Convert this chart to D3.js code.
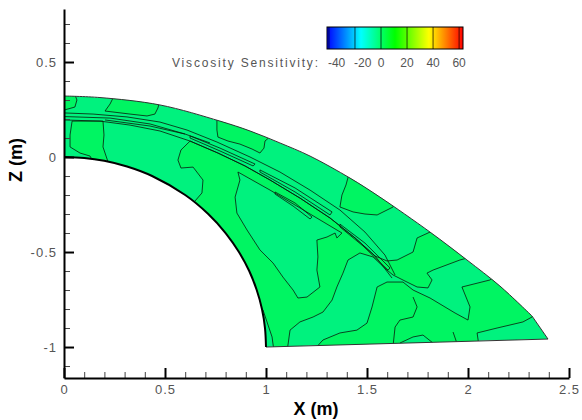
<!DOCTYPE html>
<html>
<head>
<meta charset="utf-8">
<script src="https://cdn.jsdelivr.net/npm/d3@7"></script>
<style>
body { margin:0; background:#fff; }
svg { display:block; font-family:"Liberation Sans", Arial, sans-serif; }
</style>
</head>
<body>
<svg id="svg"></svg>
<script>
// ---- data (X, Z in metres) ----
var outerEdge = [[0,0.321],[0.178,0.313],[0.475,0.274],[0.772,0.189],[0.921,0.137],[1.069,0.074],[1.218,0.005],
    [1.416,-0.111],[1.564,-0.211],[1.812,-0.395],[1.995,-0.542],[2.158,-0.679],[2.317,-0.837]];
var bottomEdge = [[2.317,-0.837],[2.396,-0.958],[1,-1]];
var innerEdge = [[1,-1],[0.995,-0.9],[0.98,-0.8],[0.954,-0.7],[0.917,-0.6],[0.866,-0.5],[0.8,-0.4],[0.714,-0.3],
    [0.6,-0.2],[0.436,-0.1],[0.312,-0.05],[0.199,-0.02],[0.1,-0.005],[0,0]];

// contour bands, value above 0 (greener)
var p1 = [[0.045,0.353],[0.064,0.300],[0.054,0.263],[0,0.247],[-0.045,0.247],[-0.045,0.353]];
var p2 = [[0.243,0.353],[0.243,0.311],[0.228,0.279],[0.203,0.242],[0.327,0.226],[0.411,0.216],[0.450,0.226],
    [0.465,0.258],[0.475,0.300],[0.475,0.353]];
var p3 = [[0.757,0.247],[0.757,0.142],[0.762,0.105],[0.812,0.084],[0.871,0.068],[0.931,0.042],[0.970,0.021],
    [0.990,0.047],[0.995,0.084],[1.030,0.116],[1.030,0.247]];
var p4 = [[1.416,-0.068],[1.396,-0.147],[1.376,-0.200],[1.366,-0.263],[1.431,-0.289],[1.490,-0.300],[1.550,-0.305],
    [1.629,-0.263],[1.663,-0.200],[1.564,-0.068]];
var strip = [[0.040,0.189],[0.030,0.116],[0.030,0.053],[0.079,0.021],[0.129,0.005],[0.153,-0.042],[0.218,-0.042],
    [0.218,-0.026],[0.193,0.053],[0.198,0.116],[0.193,0.189]];
var band = [[0.624,0.084],[0.579,0.037],[0.564,-0.016],[0.579,-0.058],[0.639,-0.053],[0.688,-0.121],[0.683,-0.189],
    [0.644,-0.237],[0.599,-0.253],[0.871,-0.700],[0.946,-0.805],[0.985,-0.805],[1.005,-0.868],[1.030,-0.947],
    [1.040,-1.026],[1.104,-1.026],[1.119,-0.911],[1.168,-0.868],[1.233,-0.842],[1.282,-0.816],[1.327,-0.753],
    [1.351,-0.684],[1.381,-0.611],[1.406,-0.542],[1.465,-0.505],[1.530,-0.526],[1.599,-0.595],[1.629,-0.621],
    [1.698,-0.658],[1.748,-0.684],[1.802,-0.689],[1.822,-0.647],[1.797,-0.611],[1.827,-0.595],[1.960,-0.542],
    [1.995,-0.532],[2.059,-0.489],[1.861,-0.342],[1.812,-0.395],[1.748,-0.426],[1.728,-0.500],[1.649,-0.542],
    [1.599,-0.547],[1.540,-0.521],[1.441,-0.426],[1.317,-0.321],[1.168,-0.216],[1.020,-0.121],[0.896,-0.047],
    [0.762,0.021]];
var p6 = [[1.228,-1.026],[1.282,-0.963],[1.366,-0.926],[1.450,-0.911],[1.500,-0.874],[1.525,-0.789],[1.550,-0.684],
    [1.599,-0.658],[1.678,-0.658],[1.728,-0.700],[1.812,-0.742],[1.936,-0.821],[2.000,-0.858],[2.010,-0.789],
    [1.970,-0.684],[2.109,-0.647],[2.158,-0.605],[2.381,-0.753],[2.317,-0.842],[2.272,-0.868],[2.144,-0.900],
    [2.045,-0.926],[2.059,-1.026]];
// value below 0 (bluer) inside the bands above
var tri = [[0.861,-0.079],[0.871,-0.121],[0.847,-0.211],[0.856,-0.295],[0.906,-0.384],[0.970,-0.489],[1.035,-0.558],
    [1.084,-0.632],[1.134,-0.700],[1.158,-0.742],[1.203,-0.737],[1.267,-0.684],[1.252,-0.595],[1.257,-0.526],
    [1.252,-0.437],[1.302,-0.421],[1.342,-0.400],[1.351,-0.426],[1.376,-0.400],[1.168,-0.268],[1.020,-0.174]];
var loopB = [[1.663,-1.026],[1.663,-0.979],[1.728,-0.947],[1.777,-0.937],[1.827,-0.979],[1.827,-1.026]];

// shear layer lines and thin loops
var l1 = [[0,0.232],[0.144,0.226],[0.312,0.211],[0.475,0.184],[0.609,0.142],[0.757,0.079],[0.921,0],[1.069,-0.079],
    [1.218,-0.174],[1.366,-0.279],[1.490,-0.395],[1.589,-0.516],[1.639,-0.621]];
var l2 = [[0,0.195],[0.178,0.189],[0.327,0.168],[0.475,0.137],[0.624,0.084],[0.762,0.021],[0.896,-0.047],[1.020,-0.121],
    [1.168,-0.216],[1.317,-0.321],[1.441,-0.426],[1.540,-0.521],[1.624,-0.637]];
var l3 = [[0,0.213],[0.228,0.205],[0.426,0.174],[0.599,0.121],[0.723,0.074]];
var l4 = [[0.203,0.195],[0.426,0.163],[0.599,0.121]];
var e1 = [[1.728,-0.737],[1.748,-0.789],[1.728,-0.842],[1.663,-0.858],[1.639,-0.895],[1.629,-0.995]];
var e2 = [[1.926,-0.921],[1.950,-0.995]];
var s1 = [[0.624,0.111],[0.772,0.047],[0.946,-0.037],[0.936,-0.047],[0.772,0.032],[0.624,0.100]];
var s2 = [[0.970,-0.068],[1.144,-0.163],[1.327,-0.289],[1.317,-0.305],[1.144,-0.184],[0.970,-0.079]];
var s3 = [[1.045,-0.184],[1.144,-0.242],[1.228,-0.316],[1.218,-0.326],[1.134,-0.258],[1.045,-0.195]];
var s4 = [[1.366,-0.353],[1.490,-0.453],[1.614,-0.584],[1.604,-0.595],[1.480,-0.468],[1.366,-0.368]];

var darkPatches = [p1, p2, p3, p4, strip, band, p6];
var lightPatches = [tri, loopB];
var openLines = [l1, l2, l3, l4, e1, e2];
var loops = [s1, s2, s3, s4];

var xMajor = [0, 0.5, 1, 1.5, 2, 2.5];
var yMajor = [-1, -0.5, 0, 0.5];
var legendTicks = [-40, -20, 0, 20, 40, 60];
var cmapValues = [-41.5, -15.4, 10.75, 36.9, 63];
var cmapColors = ["#0000ff", "#00ffff", "#00ff00", "#ffff00", "#ff0000"];

var lightFill = "#00f27e", darkFill = "#00f562";

// ---- drawing ----
var w = 582, h = 420;
var svg = d3.select("#svg").attr("width", w).attr("height", h);
var defs = svg.append("defs");

var x = d3.scaleLinear().domain([0, 2.5]).range([64, 569]);
var y = d3.scaleLinear().domain([-1.163, 0.779]).range([378, 9]);

var line = d3.line().x(function(d){return x(d[0]);}).y(function(d){return y(d[1]);});
var smooth = d3.line().x(function(d){return x(d[0]);}).y(function(d){return y(d[1]);}).curve(d3.curveCatmullRom);

var domainD = smooth(outerEdge) + line(bottomEdge).replace("M", "L") + smooth(innerEdge).replace("M", "L") + "Z";

defs.append("clipPath").attr("id", "dom").append("path").attr("d", domainD);

var g = svg.append("g").attr("clip-path", "url(#dom)");
g.append("path").attr("d", domainD).attr("fill", lightFill);

g.selectAll("path.dark").data(darkPatches).enter().append("path")
    .attr("class", "dark")
    .attr("d", function(d){return line(d) + "Z";})
    .attr("fill", darkFill).attr("stroke", "#0a1a0a").attr("stroke-width", 0.8);

g.selectAll("path.light").data(lightPatches).enter().append("path")
    .attr("class", "light")
    .attr("d", function(d){return line(d) + "Z";})
    .attr("fill", lightFill).attr("stroke", "#0a1a0a").attr("stroke-width", 0.8);

g.selectAll("path.open").data(openLines).enter().append("path")
    .attr("class", "open")
    .attr("d", line)
    .attr("fill", "none").attr("stroke", "#0a1a0a").attr("stroke-width", 0.8);

g.selectAll("path.loop").data(loops).enter().append("path")
    .attr("class", "loop")
    .attr("d", function(d){return line(d) + "Z";})
    .attr("fill", "none").attr("stroke", "#0a1a0a").attr("stroke-width", 0.8);

// boundaries
svg.append("path").attr("d", smooth(outerEdge) + line(bottomEdge).replace("M", "L"))
    .attr("fill", "none").attr("stroke", "#333").attr("stroke-width", 1);
svg.append("path").attr("d", smooth(innerEdge))
    .attr("fill", "none").attr("stroke", "#000").attr("stroke-width", 2);

// axes
var fmt = function(d){return String(d);};
var xMinor = d3.range(0, 25).map(function(i){return i / 10;}).filter(function(v){return xMajor.indexOf(v) < 0;});
var yMinor = d3.range(-11, 8).map(function(i){return i / 10;}).filter(function(v){return yMajor.indexOf(v) < 0;});

var gx = svg.append("g").attr("transform", "translate(0,378)");
gx.call(d3.axisBottom(x).tickValues(xMinor).tickSize(-6).tickFormat(""));
gx.selectAll(".tick line").attr("stroke", "#444").attr("stroke-width", 1);
var gx2 = svg.append("g").attr("transform", "translate(0,378)");
gx2.call(d3.axisBottom(x).tickValues(xMajor).tickSizeInner(-10).tickSizeOuter(0).tickPadding(7).tickFormat(fmt));
gx2.selectAll(".tick line").attr("stroke-width", 2);
gx2.select(".domain").attr("stroke-width", 2);

var gy = svg.append("g").attr("transform", "translate(64,0)");
gy.call(d3.axisLeft(y).tickValues(yMinor).tickSize(-6).tickFormat(""));
gy.selectAll(".tick line").attr("stroke", "#444").attr("stroke-width", 1);
var gy2 = svg.append("g").attr("transform", "translate(64,0)");
gy2.call(d3.axisLeft(y).tickValues(yMajor).tickSizeInner(-10).tickSizeOuter(0).tickPadding(7).tickFormat(fmt));
gy2.selectAll(".tick line").attr("stroke-width", 2);
gy2.select(".domain").attr("stroke-width", 2);

svg.selectAll(".domain").filter(function(){return this.parentNode === gx.node() || this.parentNode === gy.node();}).remove();

svg.selectAll(".tick text")
    .attr("font-family", "Liberation Sans, Arial, sans-serif")
    .attr("font-size", 13).attr("letter-spacing", "1px").attr("fill", "#555");

svg.append("text").attr("x", 316).attr("y", 415).attr("text-anchor", "middle")
    .attr("font-size", 18).attr("font-weight", "bold").attr("fill", "#000").text("X (m)");
svg.append("text").attr("transform", "translate(16,160) rotate(-90)").attr("text-anchor", "middle")
    .attr("dy", "0.35em").attr("font-size", 18).attr("font-weight", "bold").attr("fill", "#000").text("Z (m)");

// legend
var lx = d3.scaleLinear().domain([-41.5, 63]).range([327, 463]);
var grad = defs.append("linearGradient").attr("id", "cbar").attr("x1", "0%").attr("x2", "100%");
cmapValues.forEach(function(v, i){
    grad.append("stop").attr("offset", (v - lx.domain()[0]) / (lx.domain()[1] - lx.domain()[0]))
        .attr("stop-color", cmapColors[i]);
});
svg.append("rect").attr("x", lx(-41.5)).attr("y", 27).attr("width", lx(63) - lx(-41.5)).attr("height", 22)
    .attr("fill", "url(#cbar)").attr("stroke", "#000").attr("stroke-width", 1);
svg.selectAll("line.cb").data(legendTicks).enter().append("line").attr("class", "cb")
    .attr("x1", function(d){return lx(d);}).attr("x2", function(d){return lx(d);})
    .attr("y1", 27).attr("y2", 49).attr("stroke", "#000").attr("stroke-opacity", 0.7);
svg.selectAll("text.cb").data(legendTicks).enter().append("text").attr("class", "cb")
    .attr("x", function(d){return d < 0 ? lx(d) - 1 : lx(d);})
    .attr("y", 67)
    .attr("text-anchor", function(d){return d < 0 ? "start" : "middle";})
    .attr("font-size", 12).attr("fill", "#555").text(fmt);
svg.append("text").attr("x", 172).attr("y", 67).attr("font-size", 12).attr("fill", "#555")
    .attr("textLength", 146).attr("lengthAdjust", "spacing").text("Viscosity Sensitivity:");
</script>
</body>
</html>
